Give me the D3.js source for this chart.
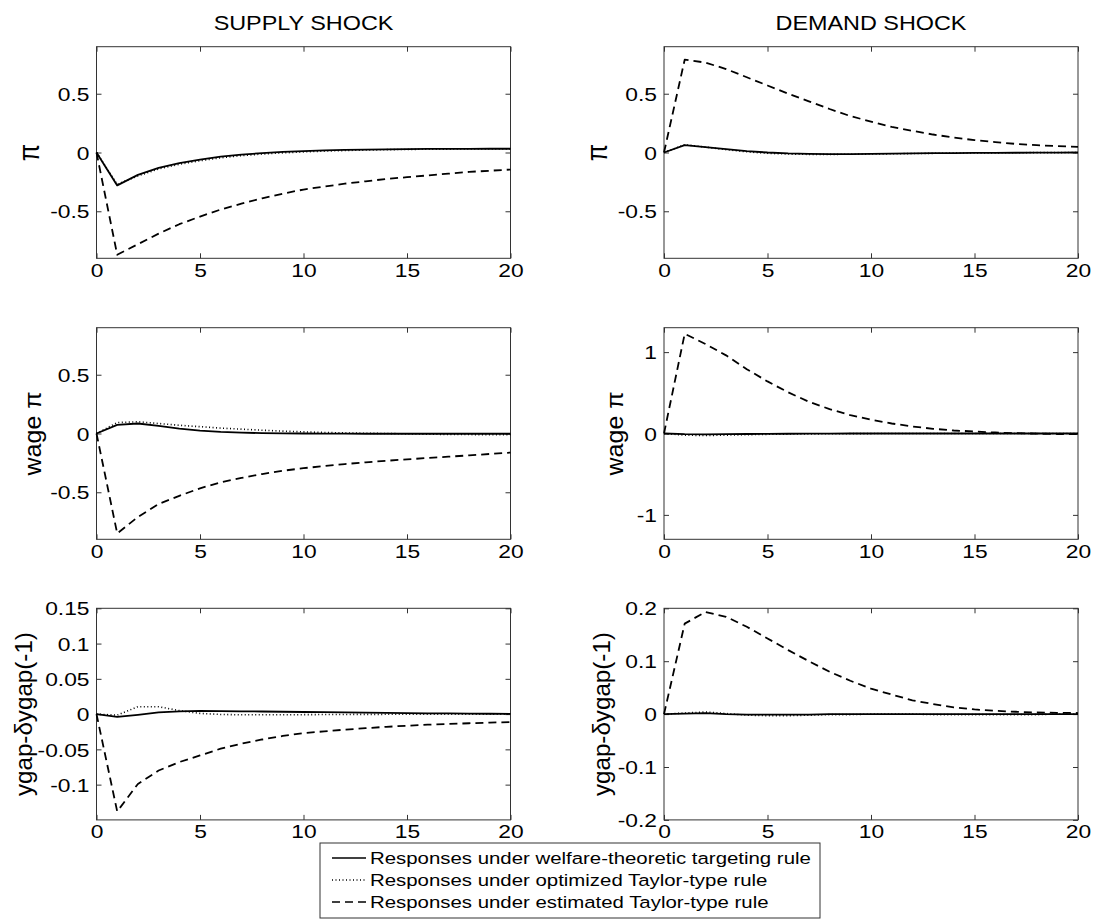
<!DOCTYPE html>
<html>
<head>
<meta charset="utf-8">
<script src="https://cdn.jsdelivr.net/npm/d3@7"></script>
<style>
  body { margin: 0; background: #fff; }
  svg text { font-family: "Liberation Sans", Arial, sans-serif; fill: #000; }
</style>
</head>
<body>
<div id="chart"></div>
<script>
// Figure size
var svgWidth = 1101;
var svgHeight = 920;

// Horizontal stretch of the glyphs (the original figure is wider than tall)
var sx = 1.2;

// Horizon (quarters)
var horizon = d3.range(0, 21);
var xTicks = [0, 5, 10, 15, 20];

// Column titles
var columnTitles = ["SUPPLY SHOCK", "DEMAND SHOCK"];

// Legend labels
var ruleNames = [
  "Responses under welfare-theoretic targeting rule",
  "Responses under optimized Taylor-type rule",
  "Responses under estimated Taylor-type rule"
];

// ---- inflation (pi) ----
var piSupplyWelfare = [0, -0.28, -0.19, -0.13, -0.09, -0.06, -0.035, -0.018, -0.005, 0.005, 0.012, 0.018, 0.022, 0.025, 0.027, 0.029, 0.03, 0.031, 0.031, 0.032, 0.032];
var piSupplyOptimized = [0, -0.27, -0.2, -0.14, -0.1, -0.07, -0.045, -0.027, -0.013, -0.003, 0.005, 0.012, 0.017, 0.021, 0.024, 0.026, 0.028, 0.029, 0.03, 0.031, 0.031];
var piSupplyEstimated = [0, -0.87, -0.78, -0.69, -0.61, -0.545, -0.485, -0.435, -0.39, -0.35, -0.315, -0.29, -0.265, -0.245, -0.225, -0.21, -0.195, -0.18, -0.165, -0.155, -0.145];

var piDemandWelfare = [0, 0.062, 0.045, 0.028, 0.012, 0, -0.008, -0.012, -0.013, -0.013, -0.012, -0.01, -0.008, -0.006, -0.005, -0.004, -0.003, -0.002, -0.001, -0.001, 0];
var piDemandOptimized = [0, 0.066, 0.046, 0.024, 0.006, -0.007, -0.013, -0.016, -0.016, -0.015, -0.013, -0.011, -0.009, -0.007, -0.005, -0.004, -0.003, -0.002, -0.001, -0.001, 0];
var piDemandEstimated = [0, 0.79, 0.765, 0.71, 0.64, 0.57, 0.5, 0.435, 0.37, 0.31, 0.263, 0.217, 0.184, 0.153, 0.127, 0.105, 0.088, 0.073, 0.062, 0.054, 0.048];

// ---- wage inflation ----
var wageSupplyWelfare = [0, 0.073, 0.085, 0.065, 0.042, 0.025, 0.014, 0.007, 0.003, 0.001, 0, -0.001, -0.001, -0.002, -0.002, -0.002, -0.002, -0.002, -0.002, -0.002, -0.002];
var wageSupplyOptimized = [0, 0.093, 0.1, 0.085, 0.07, 0.058, 0.046, 0.037, 0.028, 0.02, 0.014, 0.009, 0.005, 0.002, 0, -0.003, -0.006, -0.008, -0.009, -0.01, -0.01];
var wageSupplyEstimated = [0, -0.85, -0.71, -0.6, -0.53, -0.466, -0.415, -0.378, -0.345, -0.317, -0.295, -0.277, -0.26, -0.245, -0.232, -0.22, -0.208, -0.197, -0.186, -0.174, -0.162];

var wageDemandWelfare = [0, -0.008, -0.01, -0.008, -0.006, -0.004, -0.003, -0.002, -0.001, 0, 0, 0, 0, 0, 0, 0, 0, 0, 0, 0, 0];
var wageDemandOptimized = [0, -0.02, -0.025, -0.02, -0.015, -0.01, -0.007, -0.005, -0.003, -0.002, -0.001, 0, 0, 0, 0, 0, 0, 0, 0, 0, 0];
var wageDemandEstimated = [0, 1.225, 1.1, 0.96, 0.79, 0.64, 0.506, 0.39, 0.3, 0.226, 0.169, 0.123, 0.086, 0.058, 0.037, 0.025, 0.012, 0.004, -0.002, -0.006, -0.008];

// ---- ygap - delta*ygap(-1) ----
var gapSupplyWelfare = [0, -0.004, -0.001, 0.0025, 0.004, 0.0045, 0.0043, 0.004, 0.0037, 0.0033, 0.003, 0.0027, 0.0024, 0.002, 0.0017, 0.0014, 0.0011, 0.0009, 0.0007, 0.0005, 0.0004];
var gapSupplyOptimized = [0, -0.0015, 0.0105, 0.0105, 0.005, 0.001, -0.0005, -0.001, -0.001, -0.001, -0.0008, -0.0006, -0.0005, -0.0004, -0.0003, -0.0002, -0.0001, 0, 0, 0, 0];
var gapSupplyEstimated = [0, -0.138, -0.099, -0.08, -0.068, -0.0586, -0.049, -0.042, -0.036, -0.031, -0.027, -0.0245, -0.022, -0.02, -0.018, -0.0165, -0.015, -0.014, -0.013, -0.012, -0.0114];

var gapDemandWelfare = [0, 0.001, 0.002, 0, -0.001, -0.001, -0.001, -0.001, 0, 0, 0, 0, 0, 0, 0, 0, 0, 0, 0, 0, 0];
var gapDemandOptimized = [0, 0.002, 0.004, 0.001, -0.002, -0.003, -0.003, -0.002, -0.001, -0.001, 0, 0, 0, -0.001, -0.001, -0.001, -0.001, -0.001, -0.001, 0, 0];
var gapDemandEstimated = [0, 0.171, 0.193, 0.184, 0.165, 0.143, 0.121, 0.1, 0.08, 0.063, 0.048, 0.037, 0.026, 0.019, 0.0126, 0.0088, 0.0063, 0.0044, 0.003, 0.0025, 0.002];

// Y tick labels per panel
var piTicks = [-0.5, 0, 0.5];
var wageDemandTicks = [-1, 0, 1];
var gapSupplyTicks = [-0.1, -0.05, 0, 0.05, 0.1, 0.15];
var gapDemandTicks = [-0.2, -0.1, 0, 0.1, 0.2];

// Panel layout
var colLeft = [96.5, 664];
var rowTop = [46.7, 327.7, 608.3];
var panelWidth = 414;
var panelHeight = 211.6;

var panels = [
  { row: 0, col: 0, label: "π", labelX: 29, labelSize: 25, labelLen: null, domain: [-0.9, 0.9], ticks: piTicks,
    series: [piSupplyWelfare, piSupplyOptimized, piSupplyEstimated] },
  { row: 0, col: 1, label: "π", labelX: 597.5, labelSize: 25, labelLen: null, domain: [-0.9, 0.9], ticks: piTicks,
    series: [piDemandWelfare, piDemandOptimized, piDemandEstimated] },
  { row: 1, col: 0, label: "wage π", labelX: 33, labelSize: 20, labelLen: 84, domain: [-0.9, 0.9], ticks: piTicks,
    series: [wageSupplyWelfare, wageSupplyOptimized, wageSupplyEstimated] },
  { row: 1, col: 1, label: "wage π", labelX: 615, labelSize: 20, labelLen: 84, domain: [-1.3, 1.3], ticks: wageDemandTicks,
    series: [wageDemandWelfare, wageDemandOptimized, wageDemandEstimated] },
  { row: 2, col: 0, label: "ygap-δygap(-1)", labelX: 24, labelSize: 19.5, labelLen: 164, domain: [-0.15, 0.15], ticks: gapSupplyTicks,
    series: [gapSupplyWelfare, gapSupplyOptimized, gapSupplyEstimated] },
  { row: 2, col: 1, label: "ygap-δygap(-1)", labelX: 602.5, labelSize: 19.5, labelLen: 164, domain: [-0.2, 0.2], ticks: gapDemandTicks,
    series: [gapDemandWelfare, gapDemandOptimized, gapDemandEstimated] }
];

// Line styles: welfare rule, optimized Taylor, estimated Taylor
var lineStyles = [
  { width: 1.8, dash: null },
  { width: 1.6, dash: "1,2.5" },
  { width: 1.8, dash: "8,5" }
];

var svg = d3.select("#chart")
  .append("svg")
  .attr("width", svgWidth)
  .attr("height", svgHeight);

// Column titles
columnTitles.forEach(function (t, i) {
  svg.append("text")
    .attr("text-anchor", "middle")
    .attr("font-size", 19.5)
    .attr("transform", `translate(${colLeft[i] + panelWidth / 2}, 30) scale(${sx},1)`)
    .text(t);
});

panels.forEach(function (p) {
  var left = colLeft[p.col];
  var top = rowTop[p.row];

  var x = d3.scaleLinear().domain([0, 20]).range([0, panelWidth]);
  var y = d3.scaleLinear().domain(p.domain).range([panelHeight, 0]);

  var g = svg.append("g").attr("transform", `translate(${left}, ${top})`);

  // Bottom axis with inward ticks
  g.append("g")
    .attr("transform", `translate(0, ${panelHeight})`)
    .call(d3.axisBottom(x).tickValues(xTicks).tickSizeInner(-5).tickSizeOuter(0).tickFormat(d => String(d)))
    .attr("color", "#333")
    .attr("font-size", 19)
    .call(a => a.select(".domain").remove())
    .call(a => a.selectAll("text")
      .attr("y", 0).attr("dy", null)
      .attr("transform", `translate(0, 18.4) scale(${sx},1)`));

  // Top axis, ticks only
  g.append("g")
    .call(d3.axisTop(x).tickValues(xTicks).tickSizeInner(-5).tickSizeOuter(0).tickFormat(""))
    .attr("color", "#333")
    .call(a => a.select(".domain").remove());

  // Left axis
  g.append("g")
    .call(d3.axisLeft(y).tickValues(p.ticks).tickSizeInner(-5).tickSizeOuter(0).tickFormat(d => String(d)))
    .attr("color", "#333")
    .attr("font-size", 19)
    .call(a => a.select(".domain").remove())
    .call(a => a.selectAll("text")
      .attr("x", 0).attr("dy", "0.35em")
      .attr("transform", `translate(-7, 0) scale(${sx},1)`));

  // Right axis, ticks only
  g.append("g")
    .attr("transform", `translate(${panelWidth}, 0)`)
    .call(d3.axisRight(y).tickValues(p.ticks).tickSizeInner(-5).tickSizeOuter(0).tickFormat(""))
    .attr("color", "#333")
    .call(a => a.select(".domain").remove());

  // Box
  g.append("rect")
    .attr("x", 0).attr("y", 0)
    .attr("width", panelWidth).attr("height", panelHeight)
    .attr("fill", "none")
    .attr("stroke", "#333")
    .attr("stroke-width", 1);

  // Response lines
  var line = d3.line()
    .x((d, i) => x(horizon[i]))
    .y(d => y(d));

  p.series.forEach(function (values, k) {
    g.append("path")
      .datum(values)
      .attr("fill", "none")
      .attr("stroke", "#000")
      .attr("stroke-width", lineStyles[k].width)
      .attr("stroke-dasharray", lineStyles[k].dash)
      .attr("stroke-linejoin", "round")
      .attr("d", line);
  });

  // Y label (rotated)
  var lbl = svg.append("text")
    .attr("text-anchor", "middle")
    .attr("font-size", p.labelSize)
    .attr("dy", "0.32em")
    .attr("transform", `translate(${p.labelX}, ${top + panelHeight / 2}) scale(${sx},1) rotate(-90)`)
    .text(p.label);
  if (p.labelLen) {
    lbl.attr("textLength", p.labelLen).attr("lengthAdjust", "spacingAndGlyphs");
  }
});

// Legend
var legendBox = { x: 320, y: 843, w: 500, h: 75 };
var legend = svg.append("g");
legend.append("rect")
  .attr("x", legendBox.x).attr("y", legendBox.y)
  .attr("width", legendBox.w).attr("height", legendBox.h)
  .attr("fill", "#fff")
  .attr("stroke", "#333")
  .attr("stroke-width", 1);

ruleNames.forEach(function (name, k) {
  var cy = legendBox.y + 15 + k * 22;
  legend.append("line")
    .attr("x1", legendBox.x + 12).attr("x2", legendBox.x + 46)
    .attr("y1", cy).attr("y2", cy)
    .attr("stroke", "#000")
    .attr("stroke-width", k === 1 ? 1.3 : 1.6)
    .attr("stroke-dasharray", k === 1 ? "1,2.5" : (k === 2 ? "8,5" : null));
  legend.append("text")
    .attr("font-size", 17)
    .attr("transform", `translate(${legendBox.x + 50}, ${cy + 6}) scale(${sx},1)`)
    .text(name);
});
</script>
</body>
</html>
